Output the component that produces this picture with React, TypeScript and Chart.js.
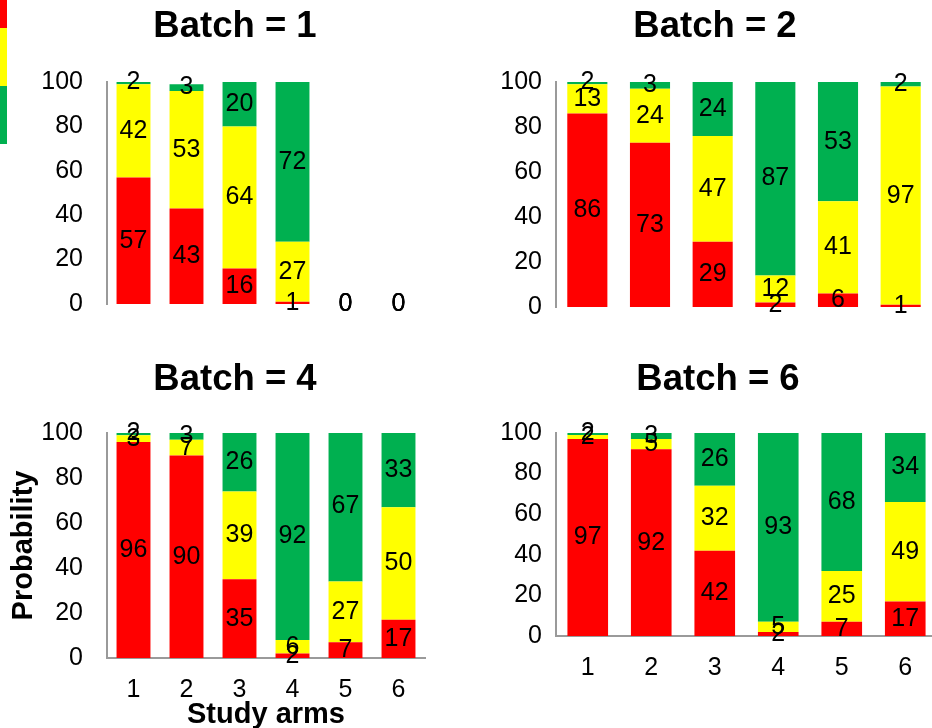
import React, { useEffect, useRef } from "react";
import { Chart, registerables } from "chart.js";

Chart.register(...registerables);

// Study arms along the x axis
const ARMS = ["1", "2", "3", "4", "5", "6"];

// Probability (%) per arm, one array per colour band and batch
const batch1Red = [57, 43, 16, 1, 0, 0];
const batch1Yellow = [42, 53, 64, 27, 0, 0];
const batch1Green = [2, 3, 20, 72, 0, 0];

const batch2Red = [86, 73, 29, 2, 6, 1];
const batch2Yellow = [13, 24, 47, 12, 41, 97];
const batch2Green = [2, 3, 24, 87, 53, 2];

const batch4Red = [96, 90, 35, 2, 7, 17];
const batch4Yellow = [3, 7, 39, 6, 27, 50];
const batch4Green = [2, 3, 26, 92, 67, 33];

const batch6Red = [97, 92, 42, 2, 7, 17];
const batch6Yellow = [2, 5, 32, 5, 25, 49];
const batch6Green = [2, 3, 26, 93, 68, 34];

const Y_MIN = 0;
const Y_MAX = 100;
const Y_STEP = 20;

const BAND_NAMES = ["Red", "Yellow", "Green"];
const BAND_COLORS = ["#FF0000", "#FFFF00", "#00B050"];

const FONT_FAMILY = 'Arial, "Liberation Sans", sans-serif';
const AXIS_GRAY = "#9a9a9a";

Chart.defaults.font.family = FONT_FAMILY;
Chart.defaults.color = "#000";

// Writes each segment's value in the middle of the segment
const segmentValueLabels = {
  id: "segmentValueLabels",
  afterDatasetsDraw(chart: any) {
    const { ctx } = chart;
    ctx.save();
    ctx.font = `25px ${FONT_FAMILY}`;
    ctx.fillStyle = "#000";
    ctx.textAlign = "center";
    ctx.textBaseline = "middle";
    chart.data.datasets.forEach((ds: any, i: number) => {
      const meta = chart.getDatasetMeta(i);
      if (meta.hidden) return;
      meta.data.forEach((el: any, j: number) => {
        const v = ds.data[j];
        const { x, y, base } = el.getProps(["x", "y", "base"], true);
        ctx.fillText(String(v), x, (y + base) / 2);
      });
    });
    ctx.restore();
  },
};

interface PanelSpec {
  title: string;
  red: number[];
  yellow: number[];
  green: number[];
  left: number;
  top: number;
  width: number;
  height: number;
  yAxisWidth: number;
  rightGap: number;
  tickGap: number;
  titleTop: number;
  titleBottom: number;
  showX: boolean;
  xAxisHeight: number;
  bottomPad: number;
  xTitle?: string;
  yTitle?: string;
}

const TITLE_SIZE = 36.5;
const TITLE_LINE = TITLE_SIZE * 1.2;

const PANELS: PanelSpec[] = [
  {
    title: "Batch = 1",
    red: batch1Red,
    yellow: batch1Yellow,
    green: batch1Green,
    left: 0,
    top: 0,
    width: 470,
    height: 350,
    yAxisWidth: 107,
    rightGap: 45,
    tickGap: 24,
    titleTop: 5,
    titleBottom: 82 - 5 - TITLE_LINE,
    showX: false,
    xAxisHeight: 0,
    bottomPad: 46,
  },
  {
    title: "Batch = 2",
    red: batch2Red,
    yellow: batch2Yellow,
    green: batch2Green,
    left: 480,
    top: 0,
    width: 470,
    height: 350,
    yAxisWidth: 76,
    rightGap: 18,
    tickGap: 14,
    titleTop: 5,
    titleBottom: 82 - 5 - TITLE_LINE,
    showX: false,
    xAxisHeight: 0,
    bottomPad: 43,
  },
  {
    title: "Batch = 4",
    red: batch4Red,
    yellow: batch4Yellow,
    green: batch4Green,
    left: 0,
    top: 351,
    width: 470,
    height: 381,
    yAxisWidth: 107,
    rightGap: 45,
    tickGap: 24,
    titleTop: 7,
    titleBottom: 82 - 7 - TITLE_LINE,
    showX: true,
    xAxisHeight: 74,
    bottomPad: 0,
    xTitle: "Study arms",
    yTitle: "Probability",
  },
  {
    title: "Batch = 6",
    red: batch6Red,
    yellow: batch6Yellow,
    green: batch6Green,
    left: 480,
    top: 351,
    width: 476,
    height: 381,
    yAxisWidth: 76,
    rightGap: 19,
    tickGap: 14,
    titleTop: 7,
    titleBottom: 82 - 7 - TITLE_LINE,
    showX: true,
    xAxisHeight: 96,
    bottomPad: 0,
  },
];

function BatchPanel({ spec }: { spec: PanelSpec }) {
  const canvasRef = useRef<HTMLCanvasElement | null>(null);

  useEffect(() => {
    const canvas = canvasRef.current;
    if (!canvas) return;
    const bands = [spec.red, spec.yellow, spec.green];
    const chart = new Chart(canvas, {
      type: "bar",
      data: {
        labels: ARMS,
        datasets: bands.map((values, i) => ({
          label: BAND_NAMES[i],
          data: values,
          backgroundColor: BAND_COLORS[i],
          borderWidth: 0,
          categoryPercentage: 1,
          barPercentage: 0.64,
          clip: 0,
          yAxisID: "y",
        })),
      },
      options: {
        animation: false,
        responsive: false,
        devicePixelRatio: 1,
        layout: { padding: { top: 0, left: 0, right: 0, bottom: spec.bottomPad } },
        plugins: {
          legend: { display: false },
          tooltip: { enabled: false },
          title: {
            display: true,
            text: spec.title,
            color: "#000",
            font: { size: TITLE_SIZE, weight: "bold", lineHeight: 1.2 },
            padding: { top: spec.titleTop, bottom: spec.titleBottom },
          },
        },
        scales: {
          x: {
            stacked: true,
            display: spec.showX,
            offset: true,
            grid: { display: false, drawTicks: false },
            border: { display: spec.showX, color: AXIS_GRAY, width: 2 },
            ticks: { font: { size: 25 }, color: "#000", padding: 17, maxRotation: 0 },
            title: spec.xTitle
              ? {
                  display: true,
                  text: spec.xTitle,
                  color: "#000",
                  font: { size: 29, weight: "bold", lineHeight: 1.2 },
                  padding: { top: 0, bottom: 0 },
                }
              : { display: false },
            afterFit: (s: any) => {
              s.height = spec.xAxisHeight;
            },
          },
          y: {
            stacked: true,
            min: Y_MIN,
            max: Y_MAX,
            grid: { display: false, drawTicks: false },
            border: { display: true, color: AXIS_GRAY, width: 2 },
            ticks: { stepSize: Y_STEP, font: { size: 25 }, color: "#000", padding: spec.tickGap },
            title: spec.yTitle
              ? {
                  display: true,
                  text: spec.yTitle,
                  color: "#000",
                  font: { size: 29, weight: "bold", lineHeight: 1.2 },
                  padding: { top: 7, bottom: 0 },
                }
              : { display: false },
            afterFit: (s: any) => {
              s.width = spec.yAxisWidth;
            },
          },
          gutter: {
            type: "linear",
            position: "right",
            display: true,
            grid: { display: false, drawTicks: false },
            border: { display: false },
            ticks: { display: false },
            afterFit: (s: any) => {
              s.width = spec.rightGap;
            },
          },
        },
      } as any,
      plugins: [segmentValueLabels],
    });
    return () => chart.destroy();
  }, [spec]);

  return (
    <canvas
      ref={canvasRef}
      width={spec.width}
      height={spec.height}
      style={{ position: "absolute", left: spec.left, top: spec.top, width: spec.width, height: spec.height }}
    />
  );
}

// Colour key strip at the left edge
const KEY_BOXES = [
  { top: 0, height: 28 },
  { top: 28, height: 58 },
  { top: 86, height: 58 },
];

export default function App() {
  return (
    <div
      style={{
        position: "absolute",
        left: 0,
        top: 0,
        width: 932,
        height: 728,
        overflow: "hidden",
        background: "#fff",
      }}
    >
      {KEY_BOXES.map((b, i) => (
        <div
          key={i}
          style={{
            position: "absolute",
            left: 0,
            top: b.top,
            width: 7,
            height: b.height,
            background: BAND_COLORS[i],
          }}
        />
      ))}
      {PANELS.map((p) => (
        <BatchPanel key={p.title} spec={p} />
      ))}
    </div>
  );
}
